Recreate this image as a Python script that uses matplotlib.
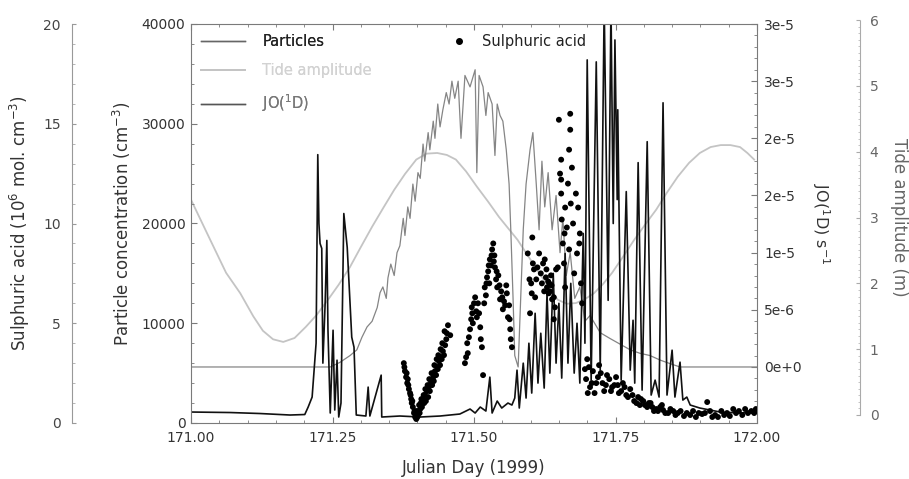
import numpy as np
import matplotlib
matplotlib.use('Agg')
import matplotlib.pyplot as plt
from matplotlib.ticker import MultipleLocator, FixedLocator, FixedFormatter
from matplotlib.lines import Line2D

plt.rcParams['font.family'] = ['DejaVu Sans']
plt.rcParams['mathtext.default'] = 'regular'

# ---- values ----
# tide amplitude (m)
tide_day = np.array([171.000, 171.034, 171.062, 171.087, 171.110, 171.127, 171.145,
                     171.163, 171.183, 171.203, 171.222, 171.242, 171.261, 171.281,
                     171.300, 171.320, 171.340, 171.359, 171.378, 171.398, 171.416,
                     171.435, 171.452, 171.468, 171.486, 171.505, 171.525, 171.544,
                     171.560, 171.577, 171.596, 171.615, 171.632, 171.648, 171.664,
                     171.680, 171.696, 171.712, 171.728, 171.744, 171.763, 171.783,
                     171.803, 171.822, 171.841, 171.860, 171.880, 171.899, 171.918,
                     171.936, 171.953, 171.970, 171.983, 171.995])
tide_m = np.array([3.27, 2.66, 2.16, 1.85, 1.50, 1.28, 1.15,
                   1.11, 1.17, 1.34, 1.52, 1.75, 1.98, 2.25,
                   2.55, 2.86, 3.15, 3.42, 3.66, 3.88, 3.97,
                   3.98, 3.95, 3.88, 3.70, 3.47, 3.24, 3.01,
                   2.84, 2.66, 2.41, 2.16, 1.94, 1.75, 1.69,
                   1.70, 1.76, 1.85, 1.99, 2.16, 2.40, 2.66,
                   2.90, 3.12, 3.38, 3.62, 3.83, 3.98, 4.07,
                   4.10, 4.10, 4.07, 3.98, 3.88])

# particle concentration (cm-3)
part_day = np.array([171.000, 171.069, 171.122, 171.175, 171.201, 171.207, 171.214,
                     171.221, 171.224, 171.226, 171.228, 171.231, 171.233, 171.237,
                     171.240, 171.242, 171.246, 171.251, 171.254, 171.258, 171.261,
                     171.265, 171.270, 171.276, 171.281, 171.284, 171.288, 171.292,
                     171.309, 171.313, 171.316, 171.336, 171.337, 171.369, 171.405,
                     171.440, 171.475, 171.493, 171.502, 171.511, 171.521, 171.528,
                     171.532, 171.541, 171.549, 171.560, 171.567, 171.572, 171.576,
                     171.580, 171.587, 171.592, 171.597, 171.602, 171.608, 171.613,
                     171.618, 171.624, 171.629, 171.634, 171.640, 171.645, 171.650,
                     171.655, 171.661, 171.666, 171.671, 171.677, 171.682, 171.687,
                     171.693, 171.696, 171.700, 171.707, 171.716, 171.723, 171.730,
                     171.737, 171.742, 171.746, 171.749, 171.753, 171.754, 171.760,
                     171.769, 171.776, 171.781, 171.784, 171.790, 171.797, 171.806,
                     171.813, 171.820, 171.827, 171.834, 171.841, 171.850, 171.855,
                     171.864, 171.869, 171.876, 171.882, 171.899, 171.935, 171.970,
                     172.000])
part_conc = np.array([1100, 1050, 950, 800, 850, 1600, 2600,
                      8000, 26900, 20000, 18000, 17500, 6000, 12000,
                      18300, 9300, 1000, 9300, 1300, 6300, 600,
                      2000, 21000, 17600, 12000, 8600, 7600, 800,
                      700, 3600, 700, 4800, 600, 700, 600,
                      700, 900, 1400, 1000, 1600, 1200, 4600,
                      1000, 2200, 1500, 2000, 1800, 2500, 5300,
                      1500, 6000, 2500, 8000, 3000, 11000, 4000,
                      9000, 3500, 13000, 5000, 15000, 6000, 12000,
                      4500, 17000, 6000, 14000, 5000, 10000, 4000,
                      19000, 8000, 36400, 4300, 36200, 5300, 42000,
                      12300, 42000, 20000, 38400, 22400, 31400, 4300,
                      23200, 5300, 10300, 4000, 26100, 3300, 28200,
                      2800, 4300, 2600, 32100, 2800, 7300, 2600,
                      6100, 2300, 2600, 1800, 1500, 1100, 1000,
                      1100])

# JO(1D) photolysis rate (1e-6 s-1)
jo_day = np.array([171.000, 171.246, 171.263, 171.281, 171.293, 171.302, 171.311,
                   171.320, 171.329, 171.334, 171.339, 171.345, 171.348, 171.353,
                   171.359, 171.364, 171.369, 171.375, 171.378, 171.383, 171.387,
                   171.392, 171.396, 171.401, 171.405, 171.410, 171.413, 171.419,
                   171.422, 171.428, 171.431, 171.436, 171.440, 171.445, 171.451,
                   171.456, 171.461, 171.466, 171.472, 171.477, 171.484, 171.493,
                   171.502, 171.505, 171.509, 171.516, 171.521, 171.525, 171.532,
                   171.537, 171.541, 171.546, 171.551, 171.557, 171.562, 171.565,
                   171.569, 171.572, 171.578, 171.581, 171.587, 171.592, 171.599,
                   171.604, 171.610, 171.615, 171.620, 171.625, 171.631, 171.638,
                   171.645, 171.652, 171.657, 171.663, 171.670, 171.678, 171.687,
                   171.696, 171.705, 171.723, 171.740, 171.758, 171.776, 171.793,
                   171.811, 171.829, 171.846, 171.864, 172.000])
jo_rate = np.array([0.0, 0.0, 0.4, 1.0, 1.5, 2.6, 3.5,
                    4.0, 5.2, 6.5, 7.0, 6.0, 7.8, 9.0,
                    8.0, 10.0, 10.6, 13.0, 11.5, 14.0, 13.0,
                    16.0, 14.5, 17.0, 16.5, 19.5, 18.0, 20.5,
                    19.0, 21.5, 20.0, 23.0, 21.0, 22.5, 24.0,
                    23.0, 25.0, 23.5, 25.0, 20.0, 25.5, 24.5,
                    26.0, 17.0, 25.5, 24.5, 22.0, 24.0, 23.0,
                    18.5, 23.0, 22.0, 21.5, 19.0, 16.0, 12.0,
                    6.0, 1.0, 0.0, 4.0, 12.0, 16.0, 19.0,
                    20.5, 16.0, 12.0, 18.0, 14.0, 17.0, 12.0,
                    15.0, 10.0, 13.0, 8.0, 10.0, 6.0, 7.0,
                    4.0, 4.5, 3.0, 2.5, 2.0, 1.5, 1.2,
                    1.0, 0.6, 0.3, 0.0, 0.0]) * 1e-6

# sulphuric acid (1e6 molecules cm-3)
acid_day = np.array([171.376, 171.378, 171.380, 171.382, 171.383, 171.385, 171.387,
                     171.389, 171.390, 171.392, 171.394, 171.396, 171.398, 171.399,
                     171.401, 171.403, 171.405, 171.406, 171.408, 171.410, 171.412,
                     171.413, 171.415, 171.417, 171.419, 171.420, 171.422, 171.424,
                     171.426, 171.428, 171.429, 171.431, 171.433, 171.435, 171.436,
                     171.438, 171.440, 171.442, 171.443, 171.445, 171.447, 171.449,
                     171.451, 171.452, 171.454, 171.458,
                     171.484, 171.488, 171.489, 171.493, 171.495, 171.496, 171.498,
                     171.502, 171.504, 171.505, 171.507, 171.511, 171.512, 171.514,
                     171.516, 171.518, 171.519, 171.521, 171.523, 171.525, 171.527,
                     171.528, 171.530, 171.532, 171.534, 171.535, 171.537, 171.539,
                     171.541, 171.543, 171.546, 171.548, 171.551, 171.553, 171.557,
                     171.558, 171.560, 171.562, 171.564, 171.565, 171.567,
                     171.595, 171.599, 171.601, 171.603, 171.604, 171.606, 171.608,
                     171.610, 171.615, 171.618, 171.622, 171.625, 171.627, 171.629,
                     171.631, 171.633, 171.634, 171.636, 171.638, 171.641, 171.641,
                     171.645, 171.648, 171.650, 171.654, 171.654, 171.654, 171.655,
                     171.657, 171.659, 171.661, 171.661, 171.664, 171.668, 171.668,
                     171.670, 171.670, 171.671, 171.673, 171.677, 171.680, 171.684,
                     171.686, 171.687, 171.691,
                     171.696, 171.700, 171.701, 171.705, 171.710, 171.716, 171.721,
                     171.724, 171.730, 171.735, 171.739, 171.744, 171.751, 171.756,
                     171.763, 171.769, 171.776, 171.783, 171.790, 171.795, 171.802,
                     171.809, 171.815, 171.822, 171.829, 171.834, 171.843, 171.852,
                     171.860, 171.871, 171.882, 171.892, 171.903, 171.912, 171.921,
                     171.931, 171.942, 171.952, 171.963, 171.974, 171.984, 171.995])
acid_conc = np.array([3.0, 2.6, 2.3, 2.0, 2.2, 1.7, 1.5,
                      1.2, 1.0, 0.8, 0.5, 0.3, 0.2, 0.6,
                      0.4, 0.9, 0.7, 1.0, 0.8, 1.2, 1.0,
                      1.4, 1.1, 1.6, 1.3, 1.8, 1.6, 2.0,
                      1.9, 2.3, 2.1, 2.6, 2.4, 2.8, 2.7,
                      3.1, 2.9, 3.3, 3.2, 3.6, 3.4, 3.9,
                      4.2, 4.5, 4.9, 4.4,
                      3.0, 4.0, 3.5, 4.7, 5.2, 5.8, 5.0,
                      6.3, 5.6, 5.3, 6.0, 4.8, 4.2, 3.8,
                      2.4, 6.0, 6.8, 6.4, 7.3, 7.6, 7.0,
                      8.2, 7.9, 8.7, 9.0, 8.1, 7.8, 7.2,
                      6.8, 7.4, 6.2, 6.6, 5.7, 6.1, 6.9,
                      6.5, 5.3, 5.9, 4.7, 4.2, 3.8,
                      8.5, 5.5, 7.0, 9.3, 8.0, 7.7, 6.3,
                      7.2, 8.5, 7.5, 8.0, 8.2, 7.3, 6.8,
                      7.1, 7.0, 6.6, 7.4, 6.2, 6.3, 5.2,
                      7.7, 7.8, 15.2, 13.2, 12.2, 11.5, 10.2,
                      9.0, 8.0, 10.8, 6.8, 9.8, 13.7, 8.7,
                      15.5, 14.7, 11.0, 12.8, 7.5, 11.5, 10.8,
                      9.0, 9.5, 6.0,
                      2.7, 3.2, 1.5, 1.8, 2.6, 2.0, 2.9,
                      2.5, 1.6, 2.4, 2.2, 1.8, 2.3, 1.5,
                      2.0, 1.4, 1.7, 1.1, 1.3, 1.2, 0.9,
                      1.0, 0.8, 0.7, 0.8, 0.65, 0.5, 0.6,
                      0.5, 0.35, 0.4, 0.3, 0.45, 1.05, 0.3,
                      0.3, 0.4, 0.35, 0.5, 0.4, 0.5, 0.5])
# second, overlapping row of points in the dense parts of the record
acid_day_b = np.array([171.377, 171.381, 171.384, 171.388, 171.391, 171.395, 171.400,
                       171.404, 171.407, 171.411, 171.414, 171.418, 171.421, 171.425,
                       171.430, 171.434, 171.437, 171.441, 171.444, 171.448,
                       171.486, 171.491, 171.497, 171.500, 171.509, 171.522, 171.526,
                       171.531, 171.536, 171.540, 171.545, 171.550, 171.555, 171.563,
                       171.598, 171.602, 171.612, 171.620, 171.624, 171.628, 171.632,
                       171.637, 171.643, 171.652, 171.660, 171.666, 171.675, 171.682,
                       171.689,
                       171.698, 171.703, 171.708, 171.713, 171.719, 171.727, 171.733,
                       171.742, 171.748, 171.754, 171.760, 171.766, 171.772, 171.780,
                       171.787, 171.793, 171.799, 171.806, 171.812, 171.818, 171.825,
                       171.832, 171.838, 171.847, 171.856, 171.865, 171.876, 171.887,
                       171.897, 171.908, 171.917, 171.926, 171.937, 171.947, 171.958,
                       171.968, 171.979, 171.990, 171.998])
acid_conc_b = np.array([2.8, 2.5, 1.9, 1.4, 1.1, 0.6, 0.3,
                        0.5, 1.2, 1.4, 1.7, 1.9, 2.2, 2.5,
                        2.9, 3.2, 3.4, 3.7, 4.0, 4.6,
                        3.3, 4.3, 5.5, 6.0, 5.5, 7.0, 7.9,
                        8.4, 8.4, 7.6, 6.9, 6.3, 5.9, 5.2,
                        7.2, 6.5, 7.8, 7.0, 6.6, 7.7, 6.5,
                        6.9, 5.8, 12.5, 9.5, 12.0, 10.0, 8.5,
                        7.0,
                        2.2, 2.8, 2.0, 1.5, 2.3, 2.0, 1.9,
                        1.6, 1.9, 1.9, 1.6, 1.8, 1.3, 1.4,
                        1.0, 0.9, 1.1, 0.8, 1.0, 0.6, 0.6,
                        0.9, 0.5, 0.7, 0.4, 0.6, 0.5, 0.6,
                        0.5, 0.5, 0.6, 0.4, 0.6, 0.5, 0.7,
                        0.6, 0.7, 0.6, 0.7])

jo_ticks = [0, 5e-6, 1e-5, 1.5e-5, 2e-5, 2.5e-5, 3e-5]
jo_labels = ['0e+0', '5e-6', '1e-5', '2e-5', '2e-5', '3e-5', '3e-5']

# colours
c_part = '#111111'
c_tide = '#c4c4c4'
c_jo = '#858585'
c_axis = '#7a7a7a'

fig = plt.figure(figsize=(9.09, 4.79), dpi=100)
fig.patch.set_facecolor('white')

# main axes box (pixel layout of the scan)
L, B, W, H = 191/909, 56/479, 566/909, 399/479

# tide axis has its own vertical extent in the original
ax_tide = fig.add_axes([L, 64/479, W, 395/479])
ax = fig.add_axes([L, B, W, H])
ax_jo = ax.twinx()
ax_acid = ax.twinx()

ax_tide.set_zorder(1)
ax_jo.set_zorder(2)
ax.set_zorder(3)
ax_acid.set_zorder(4)
for a in (ax_tide, ax, ax_jo, ax_acid):
    a.patch.set_visible(False)

# tide
ax_tide.plot(tide_day, tide_m, color=c_tide, lw=1.3)
ax_tide.set_xlim(171.0, 172.0)
ax_tide.set_ylim(0, 6)
ax_tide.set_xticks([])
for s in ('top', 'left', 'bottom'):
    ax_tide.spines[s].set_visible(False)
ax_tide.yaxis.tick_right()
ax_tide.yaxis.set_label_position('right')
ax_tide.spines['right'].set_position(('axes', (860 - 191) / 566))
ax_tide.spines['right'].set_color('#aaaaaa')
ax_tide.spines['right'].set_linestyle((0, (1, 1)))
ax_tide.spines['right'].set_linewidth(0.8)
ax_tide.yaxis.set_major_locator(MultipleLocator(1))
ax_tide.yaxis.set_minor_locator(MultipleLocator(0.1))
ax_tide.tick_params(axis='y', which='major', direction='in', length=3, color='#aaaaaa',
                    labelsize=10, labelcolor='#666666', pad=7)
ax_tide.tick_params(axis='y', which='minor', direction='in', length=1.5, color='#bbbbbb')
ax_tide.set_ylabel('Tide amplitude (m)', rotation=270, fontsize=12, color='#666666',
                   labelpad=21)

# JO(1D)
ax_jo.plot(jo_day, jo_rate, color=c_jo, lw=0.9)
ax_jo.set_ylim(-4.9e-6, 3.0e-5)
ax_jo.yaxis.set_major_locator(FixedLocator(jo_ticks))
ax_jo.yaxis.set_major_formatter(FixedFormatter(jo_labels))
ax_jo.yaxis.set_minor_locator(MultipleLocator(1e-6))
ax_jo.tick_params(axis='y', which='major', direction='in', length=4, color=c_axis,
                  labelsize=10, labelcolor='#333333', pad=5)
ax_jo.tick_params(axis='y', which='minor', direction='in', length=2, color=c_axis)
ax_jo.set_ylabel('JO($^1$D) s$^{-1}$', rotation=270, fontsize=11.5, color='#333333',
                 labelpad=22)
for s in ('top', 'left', 'bottom'):
    ax_jo.spines[s].set_visible(False)
ax_jo.spines['right'].set_color(c_axis)

# particles
ax.plot(part_day, part_conc, color=c_part, lw=1.2)
ax.set_xlim(171.0, 172.0)
ax.set_ylim(0, 40000)
ax.xaxis.set_major_locator(MultipleLocator(0.25))
ax.xaxis.set_minor_locator(MultipleLocator(0.05))
ax.xaxis.set_major_formatter(plt.FormatStrFormatter('%.2f'))
ax.yaxis.set_major_locator(MultipleLocator(10000))
ax.yaxis.set_minor_locator(MultipleLocator(2000))
ax.tick_params(which='major', direction='in', length=4, color=c_axis, top=True,
               labelsize=10, labelcolor='#333333')
ax.tick_params(which='minor', direction='in', length=2, color=c_axis, top=True)
ax.tick_params(axis='x', pad=6)
ax.tick_params(axis='y', pad=4)
for s in ax.spines.values():
    s.set_color(c_axis)
ax.spines['right'].set_visible(False)
ax.set_xlabel('Julian Day (1999)', fontsize=12, color='#333333', labelpad=10)
ax.set_ylabel('Particle concentration (cm$^{-3}$)', fontsize=12, color='#333333',
              labelpad=6)

# sulphuric acid
ax_acid.scatter(np.concatenate([acid_day, acid_day_b]),
                np.concatenate([acid_conc, acid_conc_b]),
                s=18, color='black', edgecolors='none')
ax_acid.set_ylim(0, 20)
ax_acid.yaxis.tick_left()
ax_acid.yaxis.set_label_position('left')
for s in ('top', 'right', 'bottom'):
    ax_acid.spines[s].set_visible(False)
ax_acid.spines['left'].set_visible(True)
ax_acid.spines['left'].set_position(('axes', (72 - 191) / 566))
ax_acid.spines['left'].set_color('#999999')
ax_acid.yaxis.set_major_locator(MultipleLocator(5))
ax_acid.yaxis.set_minor_locator(MultipleLocator(1))
ax_acid.tick_params(axis='y', which='major', direction='in', length=3, color='#999999',
                    labelsize=10, labelcolor='#444444', pad=8)
ax_acid.tick_params(axis='y', which='minor', direction='in', length=2, color='#aaaaaa')
ax_acid.set_ylabel('Sulphuric acid (10$^6$ mol. cm$^{-3}$)', fontsize=12,
                   color='#333333', labelpad=8)

# legends
handles = [Line2D([], [], color='#666666', lw=1),
           Line2D([], [], color=c_tide, lw=1.3),
           Line2D([], [], color='#555555', lw=1)]
leg = ax.legend(handles, ['Particles', 'Tide amplitude', 'JO($^1$D)'],
                loc='upper left', bbox_to_anchor=(0.0, 1.0), frameon=False,
                fontsize=10.5, handlelength=3.0, handletextpad=1.2, labelspacing=0.95,
                labelcolor=['#222222', '#d2d2d2', '#777777'], borderaxespad=0.3)
ax.add_artist(leg)
leg2 = ax_acid.legend([Line2D([], [], ls='none', marker='o', ms=4, color='black')],
                      ['Sulphuric acid'], loc='upper left', bbox_to_anchor=(0.44, 1.0),
                      frameon=False, fontsize=10.5, handlelength=1.2, handletextpad=1.0,
                      labelcolor='#222222', borderaxespad=0.3)

fig.savefig('out.png', dpi=100, facecolor='white')
